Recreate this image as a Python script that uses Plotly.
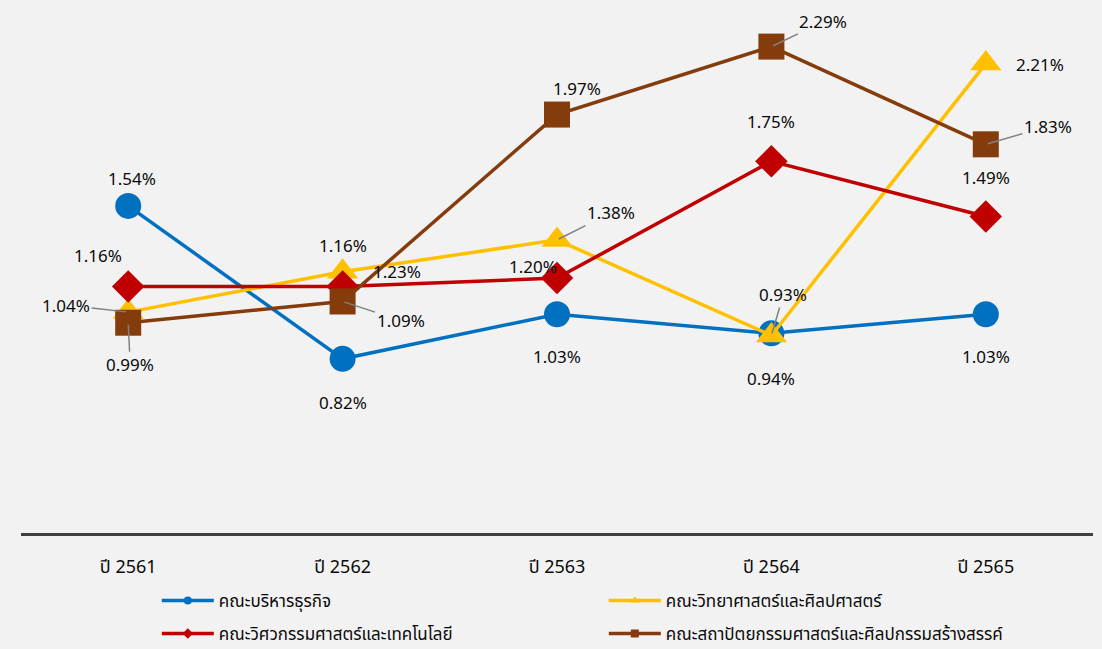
import plotly.graph_objects as go

categories = ["ปี 2561", "ปี 2562", "ปี 2563", "ปี 2564", "ปี 2565"]

series_names = [
    "คณะบริหารธุรกิจ",
    "คณะวิทยาศาสตร์และศิลปศาสตร์",
    "คณะวิศวกรรมศาสตร์และเทคโนโลยี",
    "คณะสถาปัตยกรรมศาสตร์และศิลปกรรมสร้างสรรค์",
]

business = [1.54, 0.82, 1.03, 0.94, 1.03]
science = [1.04, 1.23, 1.38, 0.93, 2.21]
engineering = [1.16, 1.16, 1.20, 1.75, 1.49]
architecture = [0.99, 1.09, 1.97, 2.29, 1.83]

values = [business, science, engineering, architecture]

# styles
colors = ["#0070C0", "#FFC000", "#C00000", "#843C0C"]
symbols = ["circle", "triangle-up", "diamond", "square"]
msizes = [26, 27, 25, 26]

# label offsets in pixels (dx, dy) and whether a leader line is drawn
label_offsets = [
    [(4, -27, False), (0, 44, False), (0, 42, False), (0, 45, False), (0, 42, False)],
    [(-62, -7, True), (54, 0, False), (54, -27, True), (12, -41, True), (54, 1, False)],
    [(-30, -31, False), (0, -41, False), (-24, -12, False), (0, -40, False), (0, -39, False)],
    [(2, 42, True), (58, 19, True), (20, -26, False), (52, -25, True), (62, -18, True)],
]

FONT = "Noto Sans, Noto Sans Thai, sans-serif"

fig = go.Figure()

for i, name in enumerate(series_names):
    fig.add_trace(go.Scatter(
        x=categories, y=values[i], mode="lines+markers", name=name,
        line=dict(color=colors[i], width=3.5),
        marker=dict(symbol=symbols[i], size=msizes[i], color=colors[i]),
        showlegend=False, cliponaxis=False,
    ))

# legend entries (small markers)
for i, name in enumerate(series_names):
    fig.add_trace(go.Scatter(
        x=[None], y=[None], mode="lines+markers", name=name,
        line=dict(color=colors[i], width=3.5),
        marker=dict(symbol=symbols[i], size=8, color=colors[i]),
        legend="legend" if i < 2 else "legend2",
    ))

annotations = []
for i in range(4):
    for j, cat in enumerate(categories):
        dx, dy, leader = label_offsets[i][j]
        txt = f"{values[i][j]:.2f}%"
        if leader:
            annotations.append(dict(
                x=cat, y=values[i][j], xref="x", yref="y", text=txt,
                showarrow=True, ax=dx, ay=dy, arrowhead=0, arrowwidth=1.5,
                arrowcolor="#808080", standoff=2, startstandoff=0,
                font=dict(family=FONT, size=17, color="#0a0a0a"),
            ))
        else:
            annotations.append(dict(
                x=cat, y=values[i][j], xref="x", yref="y", text=txt,
                showarrow=False, xshift=dx, yshift=-dy,
                font=dict(family=FONT, size=17, color="#0a0a0a"),
            ))

legend_common = dict(
    orientation="h", xref="container", yref="container",
    x=0.1423, xanchor="left", yanchor="middle",
    entrywidth=380, entrywidthmode="pixels", itemwidth=52,
    bgcolor="rgba(0,0,0,0)", font=dict(family=FONT, size=17, color="#0a0a0a"),
)

fig.update_layout(
    width=1102, height=649,
    paper_bgcolor="#f2f2f2", plot_bgcolor="#f2f2f2",
    margin=dict(l=21, r=9, t=2, b=116),
    font=dict(family=FONT, size=17, color="#0a0a0a"),
    xaxis=dict(
        type="category", range=[-0.5, 4.5], showgrid=False, zeroline=False,
        showline=True, linecolor="#404040", linewidth=3,
        ticks="outside", ticklen=15, tickcolor="rgba(0,0,0,0)",
        tickfont=dict(family=FONT, size=18, color="#0a0a0a"),
    ),
    yaxis=dict(range=[0, 2.5], visible=False, showgrid=False, zeroline=False),
    annotations=annotations,
    legend=dict(legend_common, y=1 - 601 / 649),
    legend2=dict(legend_common, y=1 - 634 / 649),
)

fig.write_html(
    "out.html",
    config={"displayModeBar": False},
    post_script="document.body.style.margin='0';document.body.style.overflow='hidden';",
)
